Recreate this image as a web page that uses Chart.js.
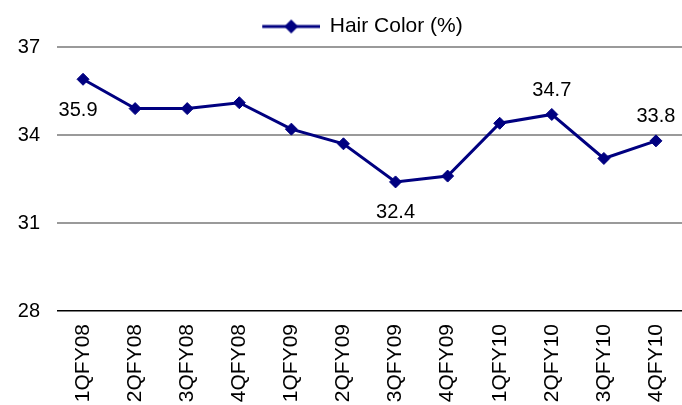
<!DOCTYPE html>
<html>
<head>
<meta charset="utf-8">
<script src="https://cdn.jsdelivr.net/npm/chart.js@4"></script>
<style>
  html, body { margin: 0; padding: 0; background: #fff; overflow: hidden; }
  #wrap { width: 682px; height: 405px; position: relative; }
</style>
</head>
<body>
<div id="wrap"><canvas id="hairChart"></canvas></div>
<script>
// --- data ---
const quarters = ['1QFY08', '2QFY08', '3QFY08', '4QFY08', '1QFY09', '2QFY09', '3QFY09', '4QFY09', '1QFY10', '2QFY10', '3QFY10', '4QFY10'];
const hairColor = [35.9, 34.9, 34.9, 35.1, 34.2, 33.7, 32.4, 32.6, 34.4, 34.7, 33.2, 33.8];
const yTicks = [28, 31, 34, 37];
// which points carry a value label, and where it sits
const labelled = [0, 6, 9, 11];
const labelSide = ['belowLeft', 'below', 'above', 'above'];

const navy = '#000080';
const fontFamily = '"Liberation Sans", Arial, sans-serif';

// legend symbol: line with a diamond; blank strip on the left nudges the
// centred legend to the right like the original
const legendIcon = document.createElement('canvas');
legendIcon.width = 102;
legendIcon.height = 16;
(() => {
    const c = legendIcon.getContext('2d');
    const x0 = 44;
    c.strokeStyle = navy;
    c.lineWidth = 3;
    c.beginPath();
    c.moveTo(x0, 8);
    c.lineTo(x0 + 58, 8);
    c.stroke();
    c.fillStyle = navy;
    c.beginPath();
    c.moveTo(x0 + 29, 1);
    c.lineTo(x0 + 36, 8);
    c.lineTo(x0 + 29, 15);
    c.lineTo(x0 + 22, 8);
    c.closePath();
    c.fill();
})();

// value labels next to a few points
const valueLabels = {
    id: 'valueLabels',
    afterDatasetsDraw(chart) {
        const ctx = chart.ctx;
        const pts = chart.getDatasetMeta(0).data;
        ctx.save();
        ctx.font = '20px ' + fontFamily;
        ctx.fillStyle = '#000';
        ctx.textAlign = 'center';
        ctx.textBaseline = 'middle';
        labelled.forEach((idx, k) => {
            const p = pts[idx];
            let x = p.x, y = p.y;
            if (labelSide[k] === 'above') y -= 24;
            else if (labelSide[k] === 'below') y += 31;
            else { x -= 5; y += 31; }
            ctx.fillText(hairColor[idx].toFixed(1), x, y);
        });
        ctx.restore();
    }
};

new Chart(document.getElementById('hairChart').getContext('2d'), {
    type: 'line',
    data: {
        labels: quarters,
        datasets: [{
            label: 'Hair Color (%)',
            data: hairColor,
            borderColor: navy,
            backgroundColor: navy,
            borderWidth: 3,
            pointStyle: 'rectRot',
            pointRadius: 6,
            pointBorderWidth: 1,
            pointBackgroundColor: navy,
            pointBorderColor: navy,
            tension: 0
        }]
    },
    options: {
        responsive: true,
        maintainAspectRatio: false,
        animation: false,
        layout: { autoPadding: false, padding: { top: 6, left: 0, right: 0, bottom: 0 } },
        scales: {
            x: {
                offset: true,
                grid: { display: false, drawTicks: false, offset: true },
                border: { display: false },
                ticks: {
                    color: '#000',
                    font: { family: fontFamily, size: 21 },
                    minRotation: 90,
                    maxRotation: 90,
                    padding: 13,
                    autoSkip: false
                },
                afterFit: (scale) => {
                    scale.height = 94;
                    scale.paddingLeft = 0;
                    scale.paddingRight = 0;
                }
            },
            y: {
                min: 28,
                max: 37,
                afterBuildTicks: (scale) => { scale.ticks = yTicks.map(v => ({ value: v })); },
                grid: {
                    drawTicks: false,
                    color: (c) => c.tick && c.tick.value === 28 ? '#000' : '#9a9a9a',
                    lineWidth: (c) => c.tick && c.tick.value === 28 ? 1.5 : 2
                },
                border: { display: false },
                ticks: {
                    color: '#000',
                    font: { family: fontFamily, size: 20 },
                    padding: 17
                },
                afterFit: (scale) => { scale.width = 57; }
            }
        },
        plugins: {
            legend: {
                position: 'top',
                labels: {
                    usePointStyle: true,
                    pointStyle: legendIcon,
                    pointStyleWidth: 100,
                    color: '#000',
                    font: { family: fontFamily, size: 21 },
                    padding: 10
                }
            },
            tooltip: { enabled: false }
        }
    },
    plugins: [valueLabels]
});
</script>
</body>
</html>
